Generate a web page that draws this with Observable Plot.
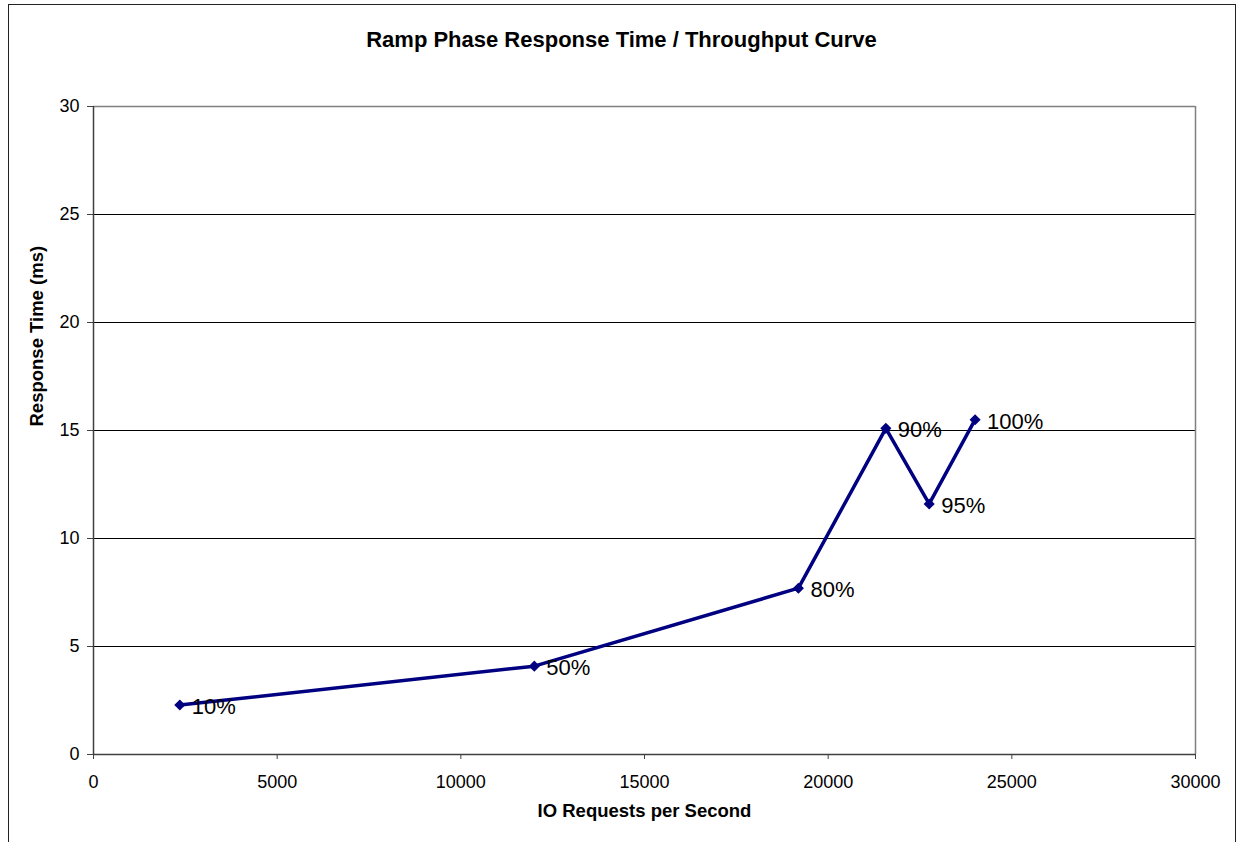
<!DOCTYPE html>
<html><head><meta charset="utf-8">
<script src="https://cdn.jsdelivr.net/npm/d3@7"></script>
<script src="https://cdn.jsdelivr.net/npm/@observablehq/plot@0.6"></script>
<style>
body{margin:0;background:#fff;overflow:hidden;}
#wrap{position:relative;width:1238px;height:842px;font-family:"Liberation Sans",Arial,sans-serif;}
#border{position:absolute;left:7.5px;top:3.5px;width:1228.5px;height:870px;border:1.5px solid #222;box-sizing:border-box;}
#title{position:absolute;left:8px;width:1227px;top:28.5px;text-align:center;font-weight:bold;font-size:22px;line-height:22px;color:#000;}
#chart{position:absolute;left:0;top:80px;}
</style></head><body>
<div id="wrap"><div id="border"></div><div id="title">Ramp Phase Response Time / Throughput Curve</div><div id="chart"></div></div>
<script>
const loadLabels = ["10%", "50%", "80%", "90%", "95%", "100%"];
const iops = [2350, 12000, 19190, 21570, 22750, 24000];
const responseMs = [2.29, 4.09, 7.70, 15.1, 11.6, 15.5];
const xTicks = [0, 5000, 10000, 15000, 20000, 25000, 30000];
const yTicks = [0, 5, 10, 15, 20, 25, 30];
const xTitle = "IO Requests per Second";
const yTitle = "Response Time (ms)";

const rows = loadLabels.map((l, i) => ({label: l, x: iops[i], y: responseMs[i]}));
const font = "'Liberation Sans', Arial, sans-serif";

const plot = Plot.plot({
  width: 1238, height: 762,
  marginLeft: 93, marginRight: 43, marginTop: 26, marginBottom: 88,
  style: {fontFamily: font, fontSize: "18px", color: "#000", background: "transparent", overflow: "visible"},
  x: {domain: [0, 30000], label: null},
  y: {domain: [0, 30], label: null},
  marks: [
    Plot.gridY(yTicks.filter(t => t > 0 && t < 30), {stroke: "#000", strokeOpacity: 1, strokeWidth: 1}),
    Plot.ruleY([30], {stroke: "#808080", strokeWidth: 1.5}),
    Plot.ruleX([30000], {stroke: "#808080", strokeWidth: 1.5}),
    Plot.axisX({ticks: xTicks, tickSize: 5, tickPadding: 16, tickFormat: d => String(d), stroke: "#404040", fontSize: 18, label: null}),
    Plot.axisY({ticks: yTicks, tickSize: 6, tickPadding: 8, tickFormat: d => String(d), stroke: "#404040", fontSize: 18, label: null}),
    Plot.ruleX([0], {stroke: "#404040", strokeWidth: 1.5}),
    Plot.ruleY([0], {stroke: "#404040", strokeWidth: 1.5}),
    Plot.line(rows, {x: "x", y: "y", stroke: "#000080", strokeWidth: 3.5}),
    Plot.dot(rows, {x: "x", y: "y", symbol: "diamond2", r: 5, fill: "#000080", stroke: "none"}),
    Plot.text(rows, {x: "x", y: "y", text: "label", textAnchor: "start", dx: 12, dy: 2, fontSize: 22, fill: "#000"}),
    Plot.text([xTitle], {frameAnchor: "bottom", dy: 62, fontWeight: "bold", fontSize: 18.5, fill: "#000"}),
    Plot.text([yTitle], {frameAnchor: "left", dx: -56, dy: -4, rotate: -90, fontWeight: "bold", fontSize: 18.5, fill: "#000"})
  ]
});
document.getElementById("chart").appendChild(plot);
</script>
</body></html>
